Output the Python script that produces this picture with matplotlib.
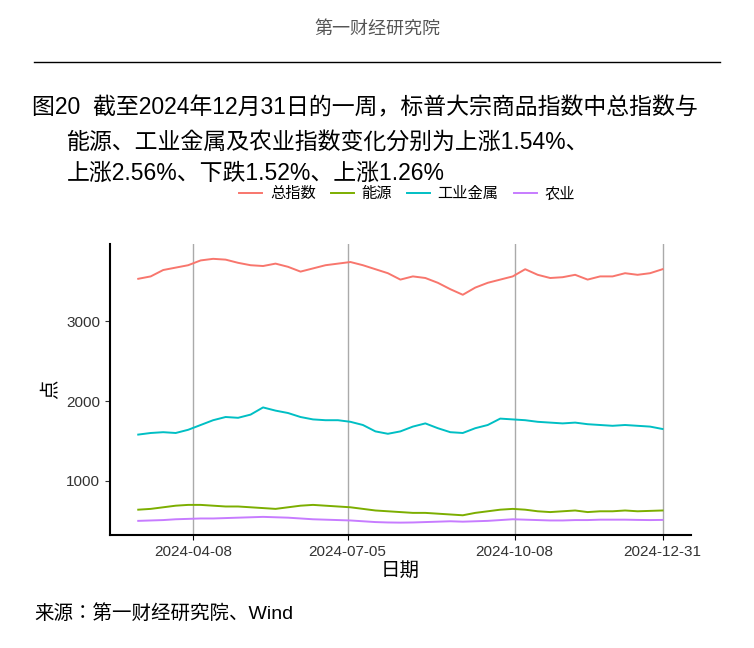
import matplotlib
matplotlib.use("Agg")
import matplotlib.pyplot as plt
import pandas as pd

plt.rcParams["font.family"] = ["Liberation Sans", "Noto Sans CJK JP"]
plt.rcParams["axes.unicode_minus"] = False

dates = pd.date_range("2024-03-08", "2024-12-31", periods=43)
total = [3530, 3560, 3640, 3670, 3700, 3760, 3780, 3770, 3730, 3700, 3690, 3720, 3680, 3620, 3660, 3700,
         3720, 3740, 3700, 3650, 3600, 3520, 3560, 3540, 3480, 3400, 3330, 3420, 3480, 3520, 3560, 3650,
         3580, 3540, 3550, 3580, 3520, 3560, 3560, 3600, 3580, 3600, 3650]
energy = [640, 650, 670, 690, 700, 700, 690, 680, 680, 670, 660, 650, 670, 690, 700, 690,
          680, 670, 650, 630, 620, 610, 600, 600, 590, 580, 570, 600, 620, 640, 650, 640,
          620, 610, 620, 630, 610, 620, 620, 630, 620, 625, 630]
metals = [1580, 1600, 1610, 1600, 1640, 1700, 1760, 1800, 1790, 1830, 1920, 1880, 1850, 1800, 1770, 1760,
          1760, 1740, 1700, 1620, 1590, 1620, 1680, 1720, 1660, 1610, 1600, 1660, 1700, 1780, 1770, 1760,
          1740, 1730, 1720, 1730, 1710, 1700, 1690, 1700, 1690, 1680, 1650]
agri = [500, 505, 510, 520, 525, 530, 530, 535, 540, 545, 550, 545, 540, 530, 520, 515,
        510, 505, 495, 485, 480, 478, 480, 485, 490, 495, 490, 495, 500, 510, 520, 515,
        510, 505, 505, 510, 510, 515, 515, 515, 512, 510, 512]
series_names = ["总指数", "能源", "工业金属", "农业"]
colors = ["#F8766D", "#7CAE00", "#00BFC4", "#C77CFF"]
tick_dates = ["2024-04-08", "2024-07-05", "2024-10-08", "2024-12-31"]

fig = plt.figure(figsize=(7.54, 6.48), dpi=100)
ax = fig.add_axes([0.146, 0.174, 0.77, 0.45])
for name, vals, c in zip(series_names, [total, energy, metals, agri], colors):
    ax.plot(dates, vals, color=c, lw=1.4, label=name)

ticks = pd.to_datetime(tick_dates)
ax.set_xticks(ticks)
ax.set_xticklabels(tick_dates, fontsize=11, color="#333333")
ax.set_xlim(pd.Timestamp("2024-02-21"), pd.Timestamp("2025-01-16"))
ax.set_ylim(320, 3970)
ax.set_yticks([1000, 2000, 3000])
ax.tick_params(axis="y", labelsize=11, colors="#333333")
ax.grid(axis="x", color="#aaaaaa", lw=1)
for s in ["top", "right"]:
    ax.spines[s].set_visible(False)
ax.spines["left"].set_linewidth(1.5)
ax.spines["bottom"].set_linewidth(1.5)
ax.set_xlabel("日期", fontsize=14, labelpad=2)
ax.set_ylabel("点", fontsize=14)
fig.legend(loc="center", bbox_to_anchor=(0.54, 0.70), ncol=4, frameon=False, fontsize=11,
           handlelength=1.5, columnspacing=1.0, handletextpad=0.5)

fig.text(0.5, 0.955, "第一财经研究院", ha="center", va="center", fontsize=13, color="#555555")
fig.add_artist(plt.Line2D([0.045, 0.955], [0.904, 0.904], color="black", lw=1))
fig.text(0.042, 0.833, "图20  截至2024年12月31日的一周，标普大宗商品指数中总指数与", fontsize=16.5, va="center")
fig.text(0.088, 0.781, "能源、工业金属及农业指数变化分别为上涨1.54%、", fontsize=16.5, va="center")
fig.text(0.088, 0.733, "上涨2.56%、下跌1.52%、上涨1.26%", fontsize=16.5, va="center")
fig.text(0.045, 0.045, "来源：第一财经研究院、Wind", fontsize=14)
fig.savefig("out.png", dpi=100)
